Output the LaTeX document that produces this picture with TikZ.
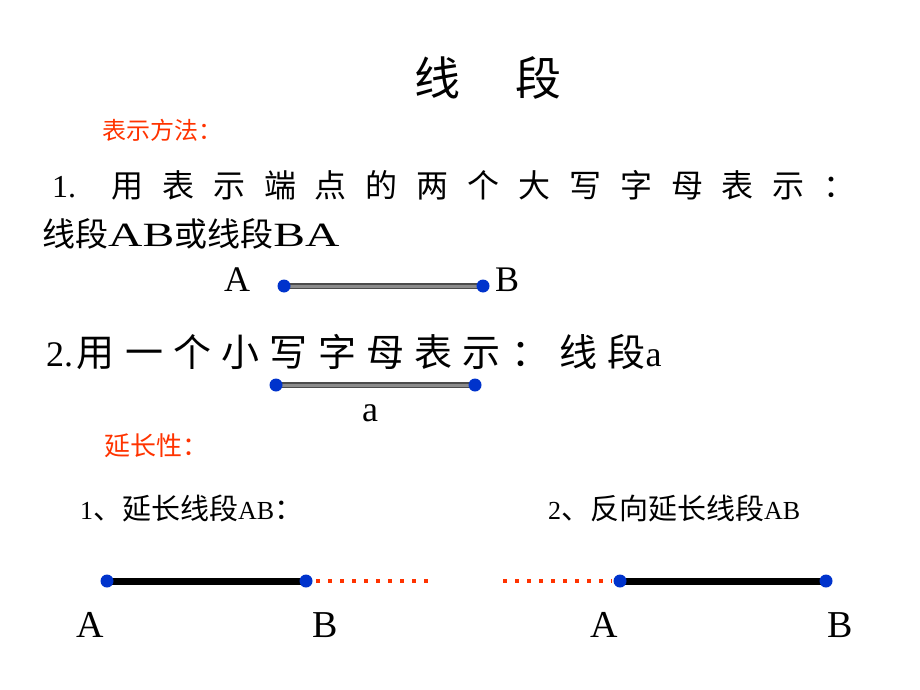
\documentclass[tikz,border=0pt]{standalone}
\usepackage{fontspec}
\setmainfont{Liberation Serif}
\newfontfamily\cjk{Noto Sans CJK SC}
\newfontfamily\cjkA[LetterSpace=59]{Noto Sans CJK SC}
\newfontfamily\cjkB[LetterSpace=27]{Noto Sans CJK SC}
\definecolor{rd}{HTML}{FF3300}
\definecolor{bl}{HTML}{0033CC}
\newcommand{\wide}[1]{\scalebox{1.4}[1]{#1}}
\begin{document}
\begin{tikzpicture}[x=1pt,y=-1pt,
  txt/.style={inner sep=0pt,anchor=west},
  dotp/.style={circle,fill=bl,inner sep=0pt,minimum size=13pt},
  gseg/.style={draw=black!70,line width=6pt},
  gin/.style={draw=black!45,line width=3pt},
  bseg/.style={draw=black,line width=7pt},
  rdot/.style={draw=rd,line width=4pt,dash pattern=on 4pt off 8pt}]
\useasboundingbox (0,0) rectangle (920,690);
\node[inner sep=0pt,font=\cjk\fontsize{46}{48}\selectfont] (t) at (488,78) {线\hspace{1.2em}段};
\node[txt,text=rd,font=\cjk\fontsize{24}{26}\selectfont] (h1) at (102,130) {表示方法：};
\node[txt,font=\fontsize{32}{34}\selectfont] (l1) at (52,185) {1.\hspace{1.1em}{\cjkA 用表示端点的两个大写字母表示：}};
\node[txt,font=\fontsize{34}{36}\selectfont] (l2) at (42,234) {{\cjk\fontsize{33}{34}\selectfont 线段}\wide{AB}{\cjk\fontsize{33}{34}\selectfont 或线段}\wide{BA}};
\coordinate (a1) at (284,286); \coordinate (b1) at (483,286);
\draw[gseg] (a1) -- (b1); \draw[gin] (a1) -- (b1);
\node[dotp] (da1) at (a1) {}; \node[dotp] (db1) at (b1) {};
\node[inner sep=0pt,font=\fontsize{36}{38}\selectfont] (A1) at (237,280) {A};
\node[inner sep=0pt,font=\fontsize{36}{38}\selectfont] (B1) at (507,280) {B};
\node[txt,font=\fontsize{36}{38}\selectfont] (l3) at (46,352) {2.\hspace{0.1em}{\cjkB\fontsize{38}{40}\selectfont 用一个小写字母表示：线段}a};
\coordinate (a2) at (276,385); \coordinate (b2) at (475,385);
\draw[gseg] (a2) -- (b2); \draw[gin] (a2) -- (b2);
\node[dotp] (da2) at (a2) {}; \node[dotp] (db2) at (b2) {};
\node[inner sep=0pt,font=\fontsize{36}{38}\selectfont] (la) at (370,413) {a};
\node[txt,text=rd,font=\cjk\fontsize{26}{28}\selectfont] (h2) at (104,446) {延长性：};
\node[txt,font=\fontsize{26}{28}\selectfont] (e1) at (80,508) {1{\cjk\fontsize{29}{30}\selectfont 、延长线段}AB{\cjk\fontsize{29}{30}\selectfont ：}};
\node[txt,font=\fontsize{26}{28}\selectfont] (e2) at (548,508) {2{\cjk\fontsize{29}{30}\selectfont 、反向延长线段}AB};
\coordinate (p1) at (107,581); \coordinate (p2) at (306,581); \coordinate (p3) at (432,581);
\draw[bseg] (p1) -- (p2); \draw[rdot] (p2) ++(10,0) -- (p3);
\node[dotp] (dp1) at (p1) {}; \node[dotp] (dp2) at (p2) {};
\coordinate (q0) at (503,581); \coordinate (q1) at (620,581); \coordinate (q2) at (826,581);
\draw[rdot] (q0) -- (612,581); \draw[bseg] (q1) -- (q2);
\node[dotp] (dq1) at (q1) {}; \node[dotp] (dq2) at (q2) {};
\node[inner sep=0pt,font=\fontsize{38}{40}\selectfont] (A2) at (90,625) {A};
\node[inner sep=0pt,font=\fontsize{38}{40}\selectfont] (B2) at (325,625) {B};
\node[inner sep=0pt,font=\fontsize{38}{40}\selectfont] (A3) at (604,625) {A};
\node[inner sep=0pt,font=\fontsize{38}{40}\selectfont] (B3) at (840,625) {B};
\end{tikzpicture}
\end{document}
